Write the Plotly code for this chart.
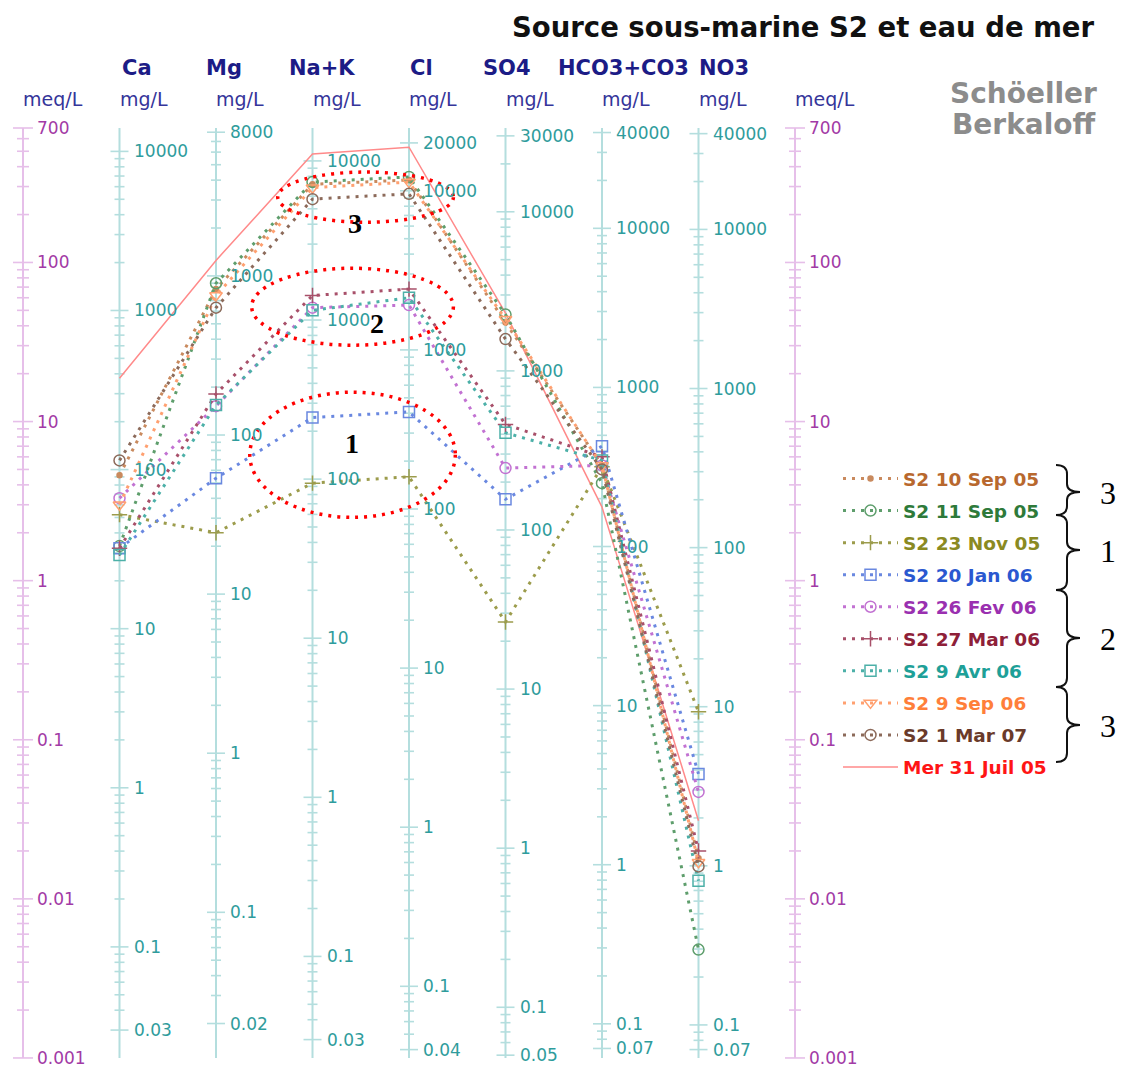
import math
import plotly.graph_objects as go

# the page body margin is removed (post_script), so figure pixels = page pixels
OFF = 0
W, H = 1121, 1068

# ---------------- data (meq/L) ----------------
ions = ["Ca", "Mg", "Na+K", "Cl", "SO4", "HCO3+CO3", "NO3"]
eq_weight = [20.04, 12.15, 23.0, 35.45, 48.03, 61.02, 62.0]

s2_10sep05 = [4.6, 68, 310, 330, 42, 5.3, 0.018]
s2_11sep05 = [1.65, 74, 320, 345, 47, 4.1, 0.0048]
s2_23nov05 = [2.6, 2.0, 4.1, 4.5, 0.55, 5.2, 0.15]
s2_20jan06 = [1.6, 4.4, 10.6, 11.5, 3.25, 7.0, 0.061]
s2_26fev06 = [3.3, 12.5, 52, 54, 5.1, 5.3, 0.047]
s2_27mar06 = [1.6, 14.9, 62, 68, 9.6, 6.0, 0.02]
s2_9avr06 = [1.45, 12.7, 50, 60, 8.5, 5.7, 0.013]
s2_9sep06 = [3.0, 62, 295, 320, 44, 5.3, 0.017]
s2_1mar07 = [5.7, 52, 250, 270, 33, 5.0, 0.016]
mer_31juil05 = [18.7, 103, 480, 530, 48, 2.9, 0.031]

# tick labels (mg/L for ions, meq/L for outer axes)
ticks_ca = [10000, 1000, 100, 10, 1, 0.1, 0.03]
ticks_mg = [8000, 1000, 100, 10, 1, 0.1, 0.02]
ticks_nak = [10000, 1000, 100, 10, 1, 0.1, 0.03]
ticks_cl = [20000, 10000, 1000, 100, 10, 1, 0.1, 0.04]
ticks_so4 = [30000, 10000, 1000, 100, 10, 1, 0.1, 0.05]
ticks_hco3 = [40000, 10000, 1000, 100, 10, 1, 0.1, 0.07]
ticks_no3 = [40000, 10000, 1000, 100, 10, 1, 0.1, 0.07]
ticks_meq = [700, 100, 10, 1, 0.1, 0.01, 0.001]
ion_ticks = [ticks_ca, ticks_mg, ticks_nak, ticks_cl, ticks_so4, ticks_hco3, ticks_no3]

# group ellipses (ion-index x, meq/L y) and labels
ellipse_labels = ["3", "2", "1"]
ellipse_x0 = [1.64, 1.37, 1.35]
ellipse_x1 = [3.46, 3.46, 3.48]
ellipse_y_top = [370, 92, 15.3]
ellipse_y_bot = [179, 30.2, 2.5]
ellipse_label_x = [2.44, 2.67, 2.41]
ellipse_label_y = [177, 41.6, 7.3]

# ---------------- geometry helpers ----------------
PX0, STEP = 119.5 - OFF, 96.5      # pixel of Ca axis, pixels per axis
PXDEC, PY700 = 159.1, 128.0 - OFF  # pixels per decade, pixel of 700 meq/L
L700 = math.log10(700)
XR = [-PX0 / STEP, (W - PX0) / STEP]
YR = [L700 - (H - PY700) / PXDEC, L700 + PY700 / PXDEC]


def dx(px):
    return px / STEP


def pxp(px):
    return (px - OFF) / W


def pyp(py):
    return 1 - (py - OFF) / H


FONT = "DejaVu Sans"
TEAL_LINE = "#b4dede"
TEAL_TXT = "#2f9c9c"
PURP_LINE = "#e6bfe9"
PURP_TXT = "#a23aa6"

fig = go.Figure()


def tick_values(eq, majors):
    lo, hi = 0.001 * eq, 700 * eq
    maj, mnr = [], []
    for n in range(-4, 6):
        for k in range(1, 10):
            v = k * 10 ** n
            if lo * 0.999 <= v <= hi * 1.001:
                if any(abs(v - m) / m < 1e-6 for m in majors):
                    maj.append(v / eq)
                else:
                    mnr.append(v / eq)
    return maj, mnr


def add_axis(xpos, eq, majors, line_col, txt_col, maj_len, min_len):
    fig.add_trace(go.Scatter(x=[xpos, xpos], y=[0.001, 700], mode="lines",
                             line=dict(color=line_col, width=2), showlegend=False,
                             hoverinfo="skip"))
    maj, mnr = tick_values(eq, majors)
    xs, ys = [], []
    for v in maj:
        xs += [xpos - dx(maj_len), xpos + dx(maj_len), None]
        ys += [v, v, None]
    for v in mnr:
        xs += [xpos - dx(min_len), xpos + dx(min_len), None]
        ys += [v, v, None]
    fig.add_trace(go.Scatter(x=xs, y=ys, mode="lines",
                             line=dict(color=line_col, width=1.6), showlegend=False,
                             hoverinfo="skip"))
    for m in majors:
        fig.add_annotation(x=xpos + dx(12), y=math.log10(m / eq), xref="x", yref="y",
                           text="%g" % m, showarrow=False, xanchor="left",
                           yanchor="middle", font=dict(family=FONT, size=17, color=txt_col))


for i, eq in enumerate(eq_weight):
    add_axis(i, eq, ion_ticks[i], TEAL_LINE, TEAL_TXT, 9, 5)
for xm in (-1, 7):
    add_axis(xm, 1.0, ticks_meq, PURP_LINE, PURP_TXT, 10, 6)

# ---------------- series ----------------
series = [
    ("S2 10 Sep 05", s2_10sep05, "#b8682e", "#c98a5e", "circle", 5),
    ("S2 11 Sep 05", s2_11sep05, "#2e7a3a", "#5e9e6c", "circle-open", 11),
    ("S2 23 Nov 05", s2_23nov05, "#8a8a22", "#9c9c4c", "cross-thin-open", 11),
    ("S2 20 Jan 06", s2_20jan06, "#2a58d0", "#6a88e0", "square-open", 11),
    ("S2 26 Fev 06", s2_26fev06, "#9a30b0", "#c272d2", "circle-open", 11),
    ("S2 27 Mar 06", s2_27mar06, "#8e2038", "#a8506a", "cross-thin-open", 11),
    ("S2 9 Avr 06", s2_9avr06, "#1ea098", "#4cb0a8", "square-open", 11),
    ("S2 9 Sep 06", s2_9sep06, "#ff7f3a", "#ffa070", "triangle-down-open", 11),
    ("S2 1 Mar 07", s2_1mar07, "#6a3a2a", "#8c6a5a", "circle-open", 11),
]

fig.add_trace(go.Scatter(
    x=list(range(len(ions))), y=mer_31juil05, mode="lines",
    name="<b><span style='color:#ff1515'>Mer 31 Juil 05</span></b>",
    line=dict(color="#ff8a8a", width=1.5), legendgroup="mer", legendrank=2000,
    hoverinfo="skip"))

for rank, (name, vals, tcol, mcol, sym, size) in enumerate(series):
    fig.add_trace(go.Scatter(
        x=list(range(len(ions))), y=vals, mode="lines+markers",
        name="<b><span style='color:%s'>%s</span></b>" % (tcol, name),
        line=dict(color=mcol, width=3, dash="3px,6px"),
        marker=dict(symbol=sym, size=size, color=mcol, line=dict(color=mcol, width=1.5)),
        legendgroup=name, legendrank=1000 + rank, hoverinfo="skip"))

# ---------------- ellipses ----------------
for i in range(len(ellipse_labels)):
    fig.add_shape(type="circle", xref="x", yref="y",
                  x0=ellipse_x0[i], x1=ellipse_x1[i],
                  y0=ellipse_y_bot[i], y1=ellipse_y_top[i],
                  line=dict(color="#ff0000", width=3.5, dash="3px,6px"))
    fig.add_annotation(x=ellipse_label_x[i], y=math.log10(ellipse_label_y[i]), xref="x", yref="y",
                       text="<b>%s</b>" % ellipse_labels[i], showarrow=False,
                       xanchor="center", yanchor="middle",
                       font=dict(family="Liberation Serif", size=28, color="#000000"))


def label(px, py, text, size, color, family=FONT, xanchor="center"):
    fig.add_annotation(x=pxp(px), y=pyp(py), xref="paper", yref="paper", text=text,
                       showarrow=False, xanchor=xanchor, yanchor="middle",
                       font=dict(family=family, size=size, color=color))


# ---------------- headers ----------------
header_px = [137, 224, 322, 421, 507, 624, 724]
for lab, cx in zip(ions, header_px):
    label(cx, 68, "<b>%s</b>" % lab, 21, "#1c1c86")
unit_px = [23, 119.5, 216, 312.5, 409, 505.5, 602, 698.5, 795]
unit_txt = ["meq/L"] + ["mg/L"] * 7 + ["meq/L"]
for u, px in zip(unit_txt, unit_px):
    label(px - 2, 99, u, 19, "#35359a", xanchor="left")

label(803, 27, "<b>Source sous-marine S2 et eau de mer</b>", 27.5, "#111111")
label(1023, 93, "<b>Schöeller</b>", 28, "#8c8c8c")
label(1023, 124, "<b>Berkaloff</b>", 28, "#8c8c8c")

# ---------------- legend braces ----------------
braces = [(465, 515, 492, "3"), (515, 590, 550, "1"), (590, 687, 638, "2"), (687, 762, 725, "3")]
for ytop, ybot, ytip, lab in braces:
    x0, xm, xt = 1056, 1067, 1080

    def P(x, y):
        return "%f,%f" % (pxp(x), pyp(y))
    path = ("M " + P(x0, ytop) + " Q " + P(xm, ytop) + " " + P(xm, ytop + 9) +
            " L " + P(xm, ytip - 8) + " Q " + P(xm, ytip) + " " + P(xt, ytip) +
            " Q " + P(xm, ytip) + " " + P(xm, ytip + 8) +
            " L " + P(xm, ybot - 9) + " Q " + P(xm, ybot) + " " + P(x0, ybot))
    fig.add_shape(type="path", xref="paper", yref="paper", path=path,
                  line=dict(color="#111111", width=2))
    label(1108, ytip + 1, lab, 32, "#000000", family="Liberation Serif")

fig.update_layout(
    width=W, height=H, margin=dict(l=0, r=0, t=0, b=0),
    paper_bgcolor="white", plot_bgcolor="white",
    xaxis=dict(range=XR, visible=False, fixedrange=True),
    yaxis=dict(type="log", range=YR, visible=False, fixedrange=True),
    legend=dict(x=pxp(838), y=pyp(460), xanchor="left", yanchor="top",
                font=dict(family=FONT, size=18.5), itemwidth=55,
                traceorder="grouped", tracegroupgap=5, bgcolor="rgba(0,0,0,0)"),
    showlegend=True,
)

fig.write_html("out.html", config={"displayModeBar": False},
               post_script="document.body.style.margin='0';document.body.style.overflow='hidden';")
